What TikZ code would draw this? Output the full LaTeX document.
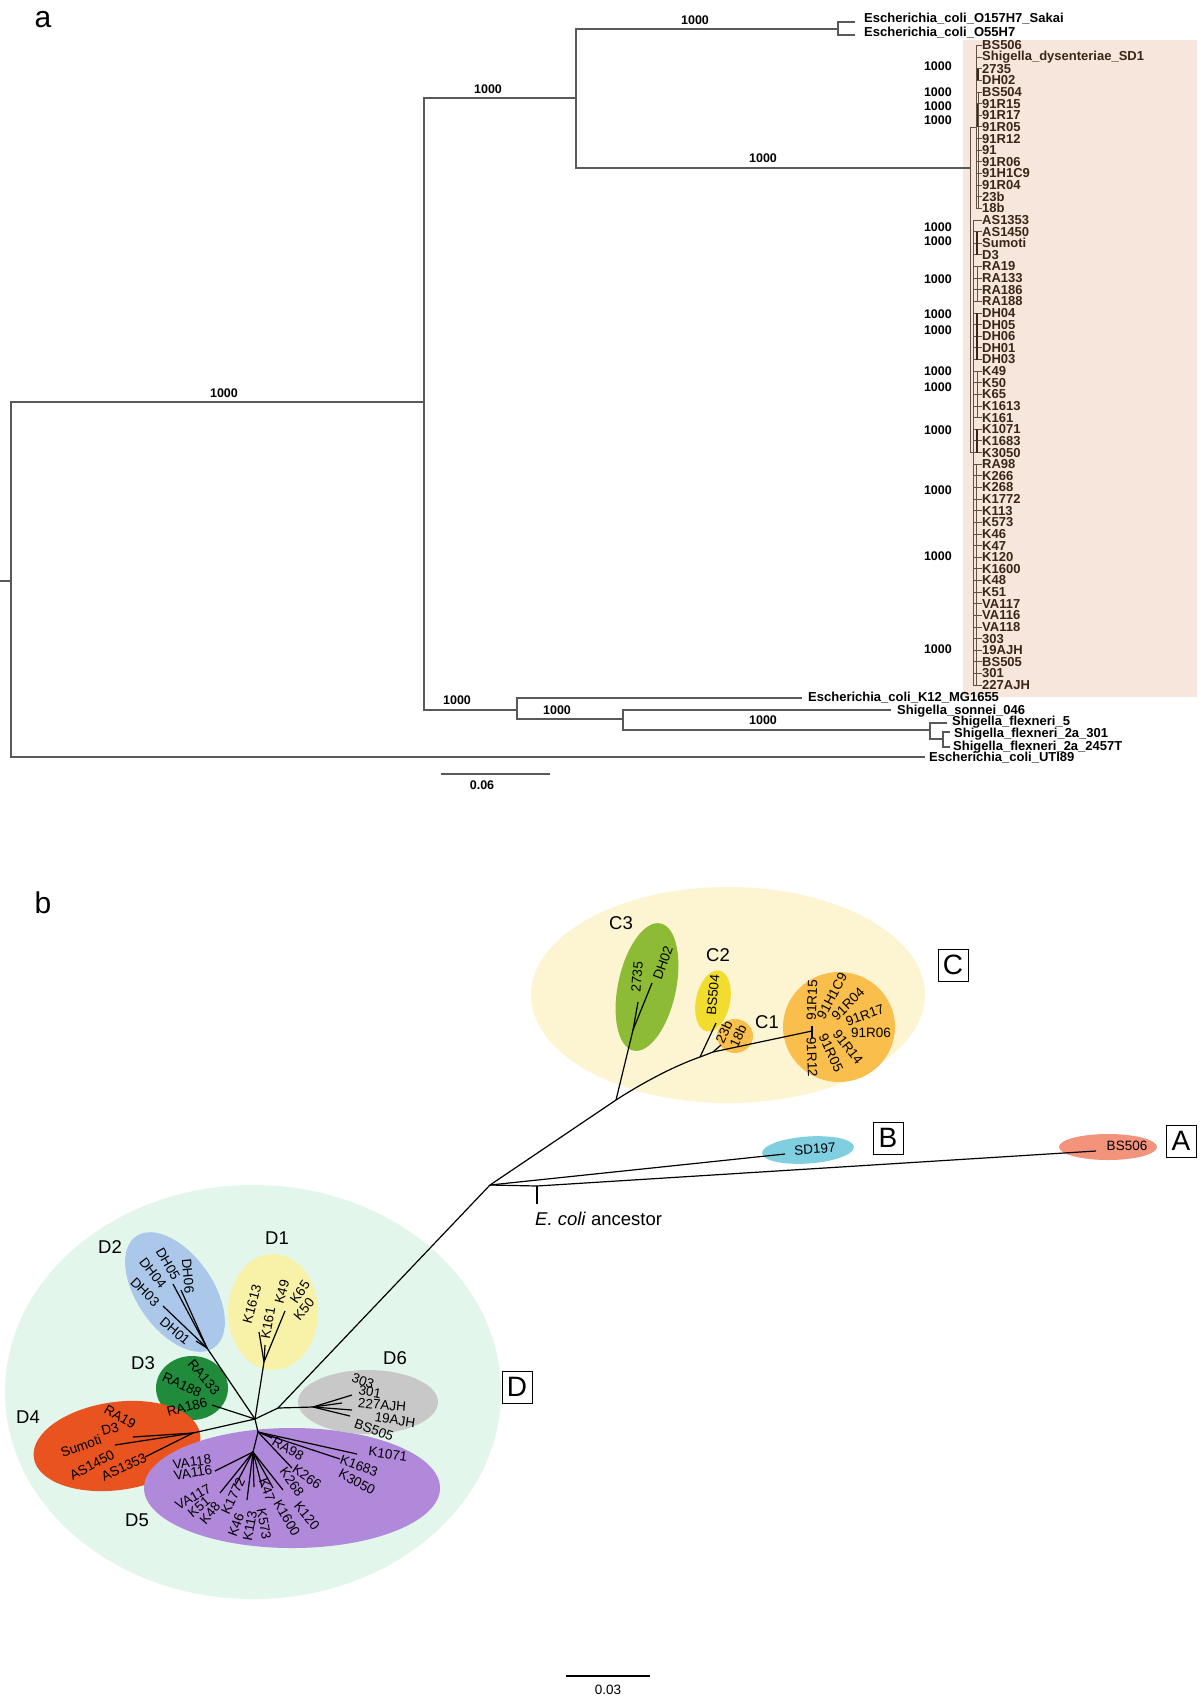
\documentclass[tikz,border=0pt]{standalone}
\usepackage{fontspec}
\setmainfont{Liberation Sans}
\definecolor{peach}{HTML}{F6E6DC}
\definecolor{leafbrown}{HTML}{3A2616}
\definecolor{cbig}{HTML}{FDF5D2}
\definecolor{cthree}{HTML}{8DBB35}
\definecolor{ctwo}{HTML}{F2DC2E}
\definecolor{cone}{HTML}{F9BE4B}
\definecolor{bcol}{HTML}{7FCFE0}
\definecolor{acol}{HTML}{F3937C}
\definecolor{dbig}{HTML}{E3F6EB}
\definecolor{dtwo}{HTML}{ABC8EA}
\definecolor{done}{HTML}{F8F1A8}
\definecolor{dthree}{HTML}{1F8B3B}
\definecolor{dfour}{HTML}{E8531F}
\definecolor{dfive}{HTML}{B189DA}
\definecolor{dsix}{HTML}{C8C8C8}
\begin{document}
\begin{tikzpicture}[x=1pt,y=-1pt,
  br/.style={draw=black!65, line width=1.3pt},
  thin/.style={draw=leafbrown!80, line width=0.9pt},
  thick/.style={draw=leafbrown, line width=2pt},
  bl/.style={draw=black, line width=1.2pt},
  labo/.style={font=\fontsize{13}{13}\selectfont\bfseries, anchor=west, inner sep=0pt},
  labi/.style={font=\fontsize{13}{13}\selectfont\bfseries, anchor=west, inner sep=0pt, text=leafbrown},
  boot/.style={font=\fontsize{12.5}{12.5}\selectfont\bfseries, inner sep=0pt},
  leaf/.style={font=\fontsize{13.5}{13.5}\selectfont, inner sep=0pt},
  clu/.style={font=\fontsize{18.5}{18.5}\selectfont, inner sep=0pt},
  boxl/.style={draw, line width=1pt, font=\fontsize{28}{28}\selectfont, minimum width=30pt, minimum height=32pt, inner sep=0pt},
  panel/.style={font=\fontsize{30}{30}\selectfont, inner sep=0pt}]
\useasboundingbox (0,0) rectangle (1200,1699);
\fill[white] (0,0) rectangle (1200,1699);

%% ================= panel a =================
\node[panel] (pa) at (43,20) {a};
\fill[peach] (963,40) rectangle (1197,697);

\coordinate (R0) at (0,581);
\coordinate (Ra) at (11,581);
\coordinate (NA) at (424,402);
\coordinate (NB) at (576,98);
\coordinate (NK) at (517,710);
\coordinate (NS) at (838,29);
\coordinate (NC) at (970,168);
\coordinate (ND) at (623,719);
\coordinate (NE) at (930,730);
\coordinate (NF) at (943,739);
\coordinate (tSak) at (855,22);
\coordinate (tO55) at (855,35);
\coordinate (tK12) at (802,698);
\coordinate (tSon) at (891,710);
\coordinate (tF5) at (947,723);
\coordinate (tF301) at (950,732);
\coordinate (tF2457) at (950,747);
\coordinate (tUTI) at (925,757);
\coordinate (NU) at (976,127);
\coordinate (NL) at (973,452);

\draw[br] (R0) -- (Ra);
\draw[br] (Ra) |- (NA);
\draw[br] (Ra) |- (tUTI);
\draw[br] (NA) |- (NB);
\draw[br] (NA) |- (NK);
\draw[br] (NB) |- (NS);
\draw[br] (NB) |- (NC);
\draw[br] (NS) |- (tSak);
\draw[br] (NS) |- (tO55);
\draw[br] (NK) |- (tK12);
\draw[br] (NK) |- (ND);
\draw[br] (ND) |- (tSon);
\draw[br] (ND) |- (NE);
\draw[br] (NE) |- (tF5);
\draw[br] (NE) |- (NF);
\draw[br] (NF) |- (tF301);
\draw[br] (NF) |- (tF2457);
\draw[thin] (NC) |- (NU);
\draw[thin] (NC) |- (NL);

\node[boot] (bs1) at (224,393) {1000};
\node[boot] (bs2) at (488,89) {1000};
\node[boot] (bs3) at (695,20) {1000};
\node[boot] (bs4) at (763,158) {1000};
\node[boot] (bs5) at (457,700) {1000};
\node[boot] (bs6) at (557,710) {1000};
\node[boot] (bs7) at (763,720) {1000};

\node[labo] (lSak) at (864,19) {Escherichia\_coli\_O157H7\_Sakai};
\node[labo] (lO55) at (864,33) {Escherichia\_coli\_O55H7};
\node[labo] (lK12) at (808,698) {Escherichia\_coli\_K12\_MG1655};
\node[labo] (lSon) at (897,711) {Shigella\_sonnei\_046};
\node[labo] (lF5) at (952,722) {Shigella\_flexneri\_5};
\node[labo] (lF301) at (954,734) {Shigella\_flexneri\_2a\_301};
\node[labo] (lF2457) at (953,747) {Shigella\_flexneri\_2a\_2457T};
\node[labo] (lUTI) at (929,758) {Escherichia\_coli\_UTI89};

\foreach \t [count=\i from 0] in {BS506,Shigella\_dysenteriae\_SD1,2735,DH02,BS504,91R15,91R17,91R05,91R12,91,91R06,91H1C9,91R04,23b,18b,AS1353,AS1450,Sumoti,D3,RA19,RA133,RA186,RA188,DH04,DH05,DH06,DH01,DH03,K49,K50,K65,K1613,K161,K1071,K1683,K3050,RA98,K266,K268,K1772,K113,K573,K46,K47,K120,K1600,K48,K51,VA117,VA116,VA118,303,19AJH,BS505,301,227AJH}{
  \pgfmathsetmacro\yy{45.5+11.63*\i}
  \node[labi] (leaf\i) at (982,\yy) {\t};
}
\draw[thin] (976,45.5) -- (976,208.3);
\draw[thin] (973,220) -- (973,685.2);
\foreach \i in {0,...,14}{ \draw[thin] (976,{45.5+11.63*\i}) -- (leaf\i.west); }
\foreach \i in {15,...,55}{ \draw[thin] (973,{45.5+11.63*\i}) -- (leaf\i.west); }
\draw[thick] (978,68.8) -- (978,80.4);
\draw[thick] (978,103.7) -- (978,127);
\draw[thin] (978.5,92) -- (978.5,208.3);
\draw[thick] (977,231.6) -- (977,254.8);
\draw[thin] (977,266.5) -- (977,301.4);
\draw[thick] (977,313) -- (977,359.5);
\draw[thin] (977,371) -- (977,417.7);
\draw[thick] (977,429.3) -- (977,452.6);
\draw[thin] (976,464.2) -- (976,685.2);

\foreach \y [count=\k] in {66,92,106,120,227,241,279,314,330,371,387,430,490,556,649}{
  \node[boot, anchor=east] (bb\k) at (952,\y) {1000};
}

\coordinate (sa1) at (441,774);
\coordinate (sa2) at (550,774);
\draw[br] (sa1) -- (sa2);
\node[boot] (sal) at (482,785) {0.06};

%% ================= panel b =================
\node[panel] (pb) at (43,903) {b};

% background ellipses
\fill[cbig] (728,995) ellipse [x radius=197, y radius=108];
\fill[dbig] (253,1392) ellipse [x radius=248, y radius=207];
\fill[cthree, rotate around={-12:(647,987)}] (647,987) ellipse [x radius=29, y radius=65];
\fill[ctwo, rotate around={-12:(713,1001)}] (713,1001) ellipse [x radius=17, y radius=31];
\fill[cone] (735,1036) ellipse [x radius=18, y radius=17];
\fill[cone] (839,1027) ellipse [x radius=56, y radius=55];
\fill[bcol, rotate around={4:(808,1150)}] (808,1150) ellipse [x radius=46, y radius=13.5];
\fill[acol] (1108,1147) ellipse [x radius=49, y radius=13];
\fill[dtwo, rotate around={35:(175,1292)}] (175,1292) ellipse [x radius=38, y radius=68];
\fill[done] (273,1312) ellipse [x radius=45, y radius=58];
\fill[dthree] (192,1388) ellipse [x radius=36, y radius=32];
\fill[dfour, rotate around={8:(117,1446)}] (117,1446) ellipse [x radius=84, y radius=44];
\fill[dfive] (292,1488) ellipse [x radius=148, y radius=60];
\fill[dsix] (368,1402) ellipse [x radius=70, y radius=32];

% tree coordinates
\coordinate (R) at (490,1185);
\coordinate (Ran) at (537,1186);
\coordinate (Ranb) at (537,1204);
\coordinate (tSD) at (785,1154);
\coordinate (tBSa) at (1096,1151);
\coordinate (C3n) at (616,1100);
\coordinate (C3s) at (633,1030);
\coordinate (t2735) at (638,1002);
\coordinate (tDH02) at (652,983);
\coordinate (C2n) at (700,1057);
\coordinate (tBS504) at (716,1023);
\coordinate (C1a) at (713,1052);
\coordinate (t23b) at (721,1045);
\coordinate (C1t) at (812,1031);
\coordinate (C1u) at (812,1026);
\coordinate (C1d) at (812,1038);

\draw[bl] (R) -- (tSD);
\draw[bl] (R) -- (Ran) -- (tBSa);
\draw[bl] (Ran) -- (Ranb);
\draw[bl] (R) -- (C3n) .. controls (650,1078) and (680,1064) .. (C2n) -- (C1a) -- (C1t);
\draw[bl] (C1u) -- (C1d);
\draw[bl] (C3n) -- (C3s) -- (t2735);
\draw[bl] (C3s) -- (tDH02);
\draw[bl] (C2n) -- (tBS504);
\draw[bl] (C1a) -- (t23b);

\coordinate (DC) at (255,1419);
\coordinate (D6n) at (278,1408);
\coordinate (D6s) at (313,1407);
\coordinate (D2n) at (207,1348);
\coordinate (D1n) at (264,1362);
\coordinate (D3t) at (212,1405);
\coordinate (D4n) at (193,1433);
\coordinate (D5a) at (258,1432);
\coordinate (D5b) at (253,1452);

\draw[bl] (R) -- (D6n) -- (DC);
\draw[bl] (D6n) -- (D6s);
\foreach \p in {(352,1395),(342,1403),(352,1410),(350,1416)}{ \draw[bl] (D6s) -- \p; }
\draw[bl] (DC) -- (D2n);
\foreach \p in {(196,1341),(163,1306),(173,1284),(181,1290)}{ \draw[bl] (D2n) -- \p; }
\draw[bl] (DC) -- (D1n);
\foreach \p in {(259,1332),(265,1345),(285,1311)}{ \draw[bl] (D1n) -- \p; }
\draw[bl] (DC) -- (D3t);
\draw[bl] (DC) -- (D4n);
\foreach \p in {(133,1437),(115,1445),(145,1457)}{ \draw[bl] (D4n) -- \p; }
\draw[bl] (DC) -- (D5a) -- (D5b);
\foreach \p in {(357,1454),(340,1459),(272,1438),(292,1468)}{ \draw[bl] (D5a) -- \p; }
\foreach \p in {(215,1471),(220,1493),(235,1486),(247,1500),(254,1487),(262,1487),(273,1488),(283,1490)}{ \draw[bl] (D5b) -- \p; }

% cluster labels
\node[clu] (lC3) at (621,923) {C3};
\node[clu] (lC2) at (718,955) {C2};
\node[clu] (lC1) at (767,1022) {C1};
\node[clu] (lD1) at (277,1238) {D1};
\node[clu] (lD2) at (110,1247) {D2};
\node[clu] (lD3) at (143,1363) {D3};
\node[clu] (lD4) at (28,1417) {D4};
\node[clu] (lD5) at (137,1520) {D5};
\node[clu] (lD6) at (395,1358) {D6};
\node[clu, anchor=west] (anc) at (535,1219) {\textit{E. coli} ancestor};

\node[boxl] (bxC) at (953,965) {C};
\node[boxl] (bxB) at (888,1138) {B};
\node[boxl] (bxA) at (1181,1141) {A};
\node[boxl] (bxD) at (517,1387) {D};

% leaf labels C
\node[leaf, rotate=85] (n2735) at (637,977) {2735};
\node[leaf, rotate=70] (nDH02) at (663,963) {DH02};
\node[leaf, rotate=85] (nBS504) at (713,995) {BS504};
\node[leaf, rotate=65] (n23b) at (724,1032) {23b};
\node[leaf, rotate=65] (n18b) at (738,1036) {18b};
\node[leaf, rotate=88] (n91R15) at (812,1000) {91R15};
\node[leaf, rotate=62] (n91H1C9) at (832,996) {91H1C9};
\node[leaf, rotate=45] (n91R04) at (848,1004) {91R04};
\node[leaf, rotate=20] (n91R17) at (865,1015) {91R17};
\node[leaf] (n91R06) at (871,1033) {91R06};
\node[leaf, rotate=-52] (n91R14) at (848,1047) {91R14};
\node[leaf, rotate=-65] (n91R05) at (831,1053) {91R05};
\node[leaf, rotate=-88] (n91R12) at (812,1057) {91R12};
\node[leaf, rotate=4] (nSD197) at (815,1149) {SD197};
\node[leaf] (nBS506) at (1127,1146) {BS506};

% leaf labels D
\node[leaf, rotate=-85] (nDH06) at (188,1276) {DH06};
\node[leaf, rotate=-60] (nDH05) at (168,1264) {DH05};
\node[leaf, rotate=-52] (nDH04) at (153,1273) {DH04};
\node[leaf, rotate=-45] (nDH03) at (145,1292) {DH03};
\node[leaf, rotate=-40] (nDH01) at (175,1331) {DH01};
\node[leaf, rotate=75] (nK1613) at (252,1304) {K1613};
\node[leaf, rotate=80] (nK161) at (268,1323) {K161};
\node[leaf, rotate=75] (nK49) at (282,1292) {K49};
\node[leaf, rotate=55] (nK65) at (300,1292) {K65};
\node[leaf, rotate=50] (nK50) at (304,1309) {K50};
\node[leaf, rotate=-50] (nRA133) at (204,1377) {RA133};
\node[leaf, rotate=-25] (nRA188) at (182,1385) {RA188};
\node[leaf, rotate=15] (nRA186) at (187,1407) {RA186};
\node[leaf, rotate=-30] (nRA19) at (120,1417) {RA19};
\node[leaf, rotate=15] (nD3) at (110,1429) {D3};
\node[leaf, rotate=20] (nSumoti) at (81,1446) {Sumoti};
\node[leaf, rotate=28] (nAS1450) at (92,1465) {AS1450};
\node[leaf, rotate=25] (nAS1353) at (124,1467) {AS1353};
\node[leaf, rotate=-20] (n303) at (363,1381) {303};
\node[leaf, rotate=-10] (n301) at (370,1392) {301};
\node[leaf, rotate=-5] (n227AJH) at (382,1405) {227AJH};
\node[leaf, rotate=-8] (n19AJH) at (395,1420) {19AJH};
\node[leaf, rotate=-20] (nBS505) at (374,1430) {BS505};
\node[leaf, rotate=8] (nVA118) at (192,1462) {VA118};
\node[leaf, rotate=10] (nVA116) at (193,1473) {VA116};
\node[leaf, rotate=30] (nVA117) at (193,1497) {VA117};
\node[leaf, rotate=40] (nK51) at (199,1507) {K51};
\node[leaf, rotate=50] (nK48) at (210,1513) {K48};
\node[leaf, rotate=65] (nK1772) at (233,1496) {K1772};
\node[leaf, rotate=70] (nK46) at (236,1525) {K46};
\node[leaf, rotate=80] (nK113) at (250,1526) {K113};
\node[leaf, rotate=-80] (nK573) at (264,1524) {K573};
\node[leaf, rotate=-70] (nK47) at (267,1490) {K47};
\node[leaf, rotate=-60] (nK1600) at (287,1518) {K1600};
\node[leaf, rotate=-50] (nK120) at (307,1516) {K120};
\node[leaf, rotate=-30] (nRA98) at (288,1449) {RA98};
\node[leaf, rotate=-35] (nK266) at (307,1477) {K266};
\node[leaf, rotate=-55] (nK268) at (292,1482) {K268};
\node[leaf, rotate=-8] (nK1071) at (388,1454) {K1071};
\node[leaf, rotate=-20] (nK1683) at (359,1466) {K1683};
\node[leaf, rotate=-28] (nK3050) at (357,1482) {K3050};

% scale bar b
\coordinate (sb1) at (566,1676);
\coordinate (sb2) at (650,1676);
\draw[bl] (sb1) -- (sb2);
\node[leaf] (sbl) at (608,1690) {0.03};
\end{tikzpicture}
\end{document}
